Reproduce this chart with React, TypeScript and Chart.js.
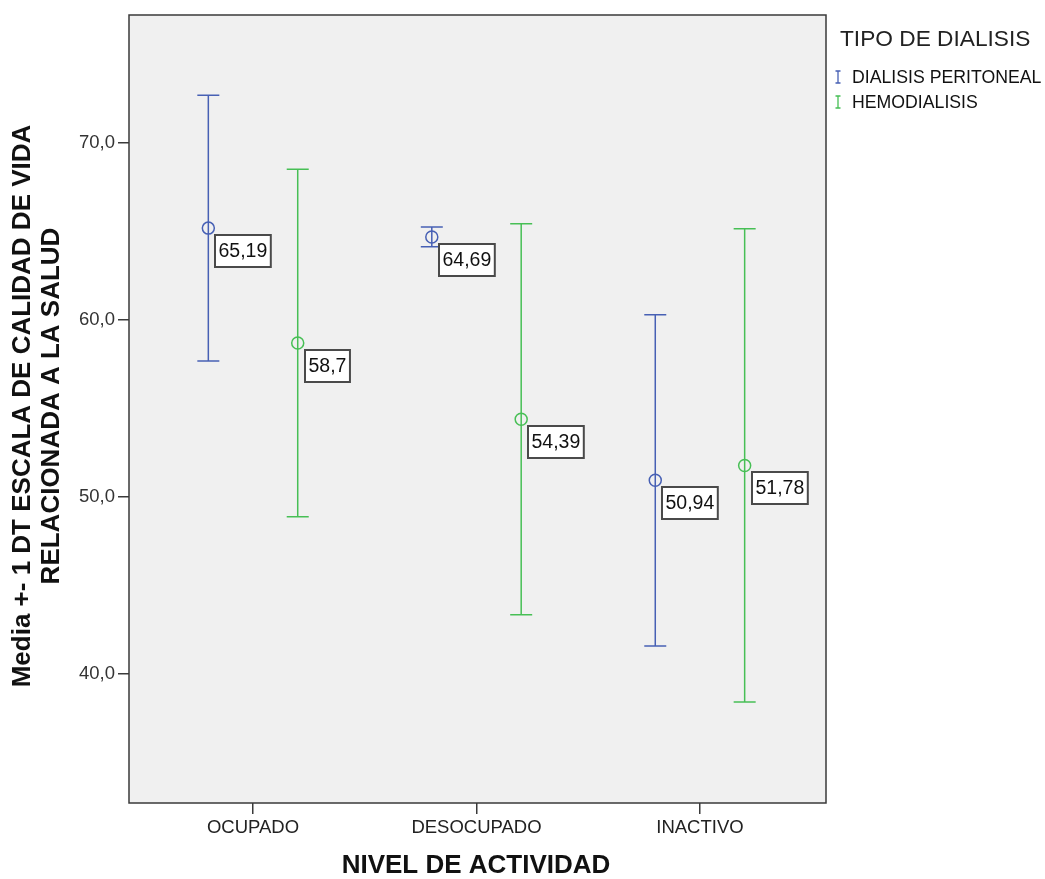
import React, { useEffect, useRef } from "react";
import { Chart, registerables } from "chart.js";

Chart.register(...registerables);

const categories = ["OCUPADO", "DESOCUPADO", "INACTIVO"];
const seriesNames = ["DIALISIS PERITONEAL", "HEMODIALISIS"];
const dpMean = [65.19, 64.69, 50.94];
const dpSd = [7.51, 0.56, 9.36];
const hdMean = [58.7, 54.39, 51.78];
const hdSd = [9.82, 11.05, 13.37];
const yTicks = [40, 50, 60, 70];
const seriesOffset = [-0.2, 0.2];
const colors = ["#4760B4", "#47BF55"];

const FONT = "Arial, 'Liberation Sans', sans-serif";

const fmt = (v: number) => String(v).replace(".", ",");

export default function App() {
  const ref = useRef<HTMLCanvasElement | null>(null);

  useEffect(() => {
    document.body.style.margin = "0";
    const canvas = ref.current!;
    const means = [dpMean, hdMean];
    const sds = [dpSd, hdSd];

    const plugin = {
      id: "custom",
      beforeDraw(chart: any) {
        const { ctx, chartArea: a } = chart;
        ctx.save();
        ctx.fillStyle = "#ffffff";
        ctx.fillRect(0, 0, chart.width, chart.height);
        ctx.fillStyle = "#f0f0f0";
        ctx.fillRect(a.left, a.top, a.right - a.left, a.bottom - a.top);
        ctx.restore();
      },
      beforeDatasetsDraw(chart: any) {
        const { ctx } = chart;
        const xs = chart.scales.x;
        const ys = chart.scales.y;
        ctx.save();
        ctx.lineWidth = 1.5;
        means.forEach((arr, s) => {
          ctx.strokeStyle = colors[s];
          arr.forEach((m, i) => {
            const x = xs.getPixelForValue(i + seriesOffset[s]);
            const yTop = ys.getPixelForValue(m + sds[s][i]);
            const yBot = ys.getPixelForValue(m - sds[s][i]);
            ctx.beginPath();
            ctx.moveTo(x, yTop);
            ctx.lineTo(x, yBot);
            ctx.moveTo(x - 11, yTop);
            ctx.lineTo(x + 11, yTop);
            ctx.moveTo(x - 11, yBot);
            ctx.lineTo(x + 11, yBot);
            ctx.stroke();
          });
        });
        ctx.restore();
      },
      afterDraw(chart: any) {
        const { ctx, chartArea: a } = chart;
        const xs = chart.scales.x;
        const ys = chart.scales.y;
        ctx.save();
        // frame
        ctx.strokeStyle = "#3a3a3a";
        ctx.lineWidth = 1.5;
        ctx.strokeRect(a.left, a.top, a.right - a.left, a.bottom - a.top);

        // data labels
        ctx.font = `19.5px ${FONT}`;
        ctx.textBaseline = "middle";
        ctx.textAlign = "left";
        means.forEach((arr, s) => {
          arr.forEach((m, i) => {
            const x = xs.getPixelForValue(i + seriesOffset[s]);
            const y = ys.getPixelForValue(m);
            const txt = fmt(m);
            const w = ctx.measureText(txt).width + 7;
            const h = 32;
            const bx = Math.round(x + 7);
            const by = Math.round(y + 7);
            ctx.fillStyle = "#ffffff";
            ctx.fillRect(bx, by, w, h);
            ctx.strokeStyle = "#4a4a4a";
            ctx.lineWidth = 2;
            ctx.strokeRect(bx, by, w, h);
            ctx.fillStyle = "#111";
            ctx.fillText(txt, bx + 3.5, by + h / 2 + 1);
          });
        });

        // legend
        ctx.fillStyle = "#222";
        ctx.font = `22.7px ${FONT}`;
        ctx.textBaseline = "middle";
        ctx.textAlign = "left";
        ctx.fillText("TIPO DE DIALISIS", 840, 40);
        ctx.font = `17.7px ${FONT}`;
        seriesNames.forEach((name, s) => {
          const y = 77 + s * 25;
          ctx.strokeStyle = colors[s];
          ctx.lineWidth = 1.3;
          ctx.beginPath();
          ctx.moveTo(838, y - 6);
          ctx.lineTo(838, y + 6);
          ctx.moveTo(835.5, y - 6);
          ctx.lineTo(840.5, y - 6);
          ctx.moveTo(835.5, y + 6);
          ctx.lineTo(840.5, y + 6);
          ctx.stroke();
          ctx.fillStyle = "#111";
          ctx.fillText(name, 852, y + 1);
        });

        // axis titles
        ctx.fillStyle = "#111";
        ctx.font = `bold 26px ${FONT}`;
        ctx.textAlign = "center";
        ctx.textBaseline = "middle";
        ctx.fillText("NIVEL DE ACTIVIDAD", 476, 866);
        ctx.save();
        ctx.translate(23, 406);
        ctx.rotate(-Math.PI / 2);
        ctx.fillText("Media +- 1 DT ESCALA DE CALIDAD DE VIDA", 0, 0);
        ctx.fillText("RELACIONADA A LA SALUD", 0, 29);
        ctx.restore();
        ctx.restore();
      },
    };

    const chart = new Chart(canvas, {
      type: "scatter",
      data: {
        datasets: [dpMean, hdMean].map((arr, s) => ({
          label: seriesNames[s],
          data: arr.map((m, i) => ({ x: i + seriesOffset[s], y: m })),
          pointStyle: "circle",
          pointRadius: 6,
          pointBorderWidth: 1.5,
          borderColor: colors[s],
          backgroundColor: "rgba(0,0,0,0)",
          pointBackgroundColor: "rgba(0,0,0,0)",
        })),
      },
      options: {
        responsive: false,
        animation: false,
        layout: { padding: { left: 0, top: 15, right: 219, bottom: 0 } },
        plugins: { legend: { display: false }, tooltip: { enabled: false } },
        scales: {
          x: {
            type: "linear",
            min: -0.555,
            max: 2.564,
            afterFit(scale: any) {
              scale.height = 76;
            },
            afterBuildTicks(scale: any) {
              scale.ticks = categories.map((_, i) => ({ value: i }));
            },
            grid: {
              drawOnChartArea: false,
              drawTicks: true,
              tickLength: 11,
              color: "#3a3a3a",
              lineWidth: 1.5,
            },
            border: { display: false },
            ticks: {
              padding: 3,
              color: "#222",
              font: { size: 18.5, family: FONT },
              maxRotation: 0,
              autoSkip: false,
              callback: (v: any) => categories[Math.round(Number(v))] ?? "",
            },
          },
          y: {
            type: "linear",
            min: 32.71,
            max: 77.23,
            afterFit(scale: any) {
              scale.width = 129;
            },
            afterBuildTicks(scale: any) {
              scale.ticks = yTicks.map((v) => ({ value: v }));
            },
            grid: {
              drawOnChartArea: false,
              drawTicks: true,
              tickLength: 11,
              color: "#3a3a3a",
              lineWidth: 1.5,
            },
            border: { display: false },
            ticks: {
              padding: 3,
              color: "#333",
              font: { size: 18.5, family: FONT },
              callback: (v: any) => Number(v).toFixed(1).replace(".", ","),
            },
          },
        },
      },
      plugins: [plugin],
    } as any);

    return () => chart.destroy();
  }, []);

  return (
    <div style={{ position: "absolute", left: 0, top: 0, width: 1045, height: 879 }}>
      <canvas ref={ref} width={1045} height={879} />
    </div>
  );
}
